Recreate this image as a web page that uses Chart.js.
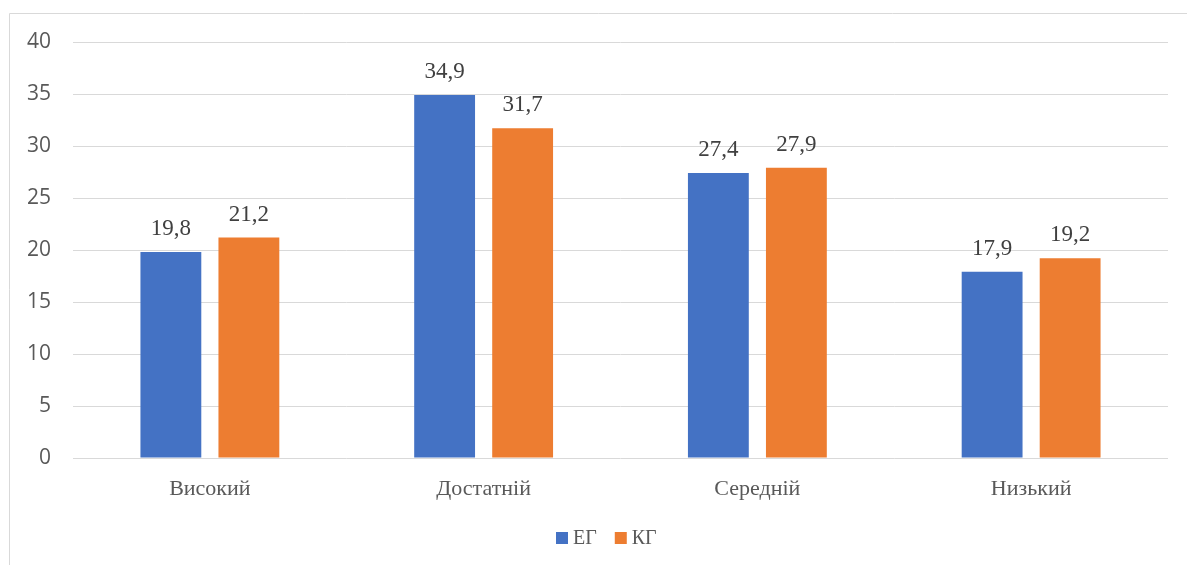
<!DOCTYPE html>
<html>
<head>
<meta charset="utf-8">
<script src="https://cdn.jsdelivr.net/npm/chart.js@4.4.1/dist/chart.umd.min.js"></script>
<style>
  html, body { margin: 0; padding: 0; background: #ffffff; }
  #wrap { position: relative; width: 1187px; height: 565px; }
</style>
</head>
<body>
<div id="wrap"><canvas id="chart" width="1187" height="565"></canvas></div>
<script>
// Levels and group results (%)
const categories = ['Високий', 'Достатній', 'Середній', 'Низький'];
const egValues = [19.8, 34.9, 27.4, 17.9];
const kgValues = [21.2, 31.7, 27.9, 19.2];
const seriesNames = ['ЕГ', 'КГ'];
const seriesColors = ['#4472c4', '#ed7d31'];
const yTicks = [0, 5, 10, 15, 20, 25, 30, 35, 40];

const SERIF = '"Liberation Serif", "Times New Roman", serif';
const SANS = '"Open Sans", "Liberation Sans", sans-serif';

// Thin frame along the top and left edges of the chart
const framePlugin = {
  id: 'frame',
  beforeDraw(chart) {
    const ctx = chart.ctx;
    ctx.save();
    ctx.strokeStyle = '#d9d9d9';
    ctx.lineWidth = 1;
    ctx.beginPath();
    ctx.moveTo(9.5, chart.height);
    ctx.lineTo(9.5, 13.5);
    ctx.lineTo(chart.width, 13.5);
    ctx.stroke();
    ctx.restore();
  }
};

// Value labels above each bar, using decimal commas
const valueLabels = {
  id: 'valueLabels',
  afterDatasetsDraw(chart) {
    const ctx = chart.ctx;
    ctx.save();
    ctx.font = '23px ' + SERIF;
    ctx.fillStyle = '#404040';
    ctx.textAlign = 'center';
    ctx.textBaseline = 'alphabetic';
    chart.data.datasets.forEach((ds, di) => {
      chart.getDatasetMeta(di).data.forEach((bar, i) => {
        const txt = ds.data[i].toFixed(1).replace('.', ',');
        ctx.fillText(txt, bar.x, bar.y - 17);
      });
    });
    ctx.restore();
  }
};

// Compact legend below the axis: small squares with tight text spacing
const bottomLegend = {
  id: 'bottomLegend',
  afterDraw(chart) {
    const ctx = chart.ctx;
    ctx.save();
    ctx.font = '20px ' + SERIF;
    ctx.textBaseline = 'alphabetic';
    ctx.textAlign = 'left';
    const box = 12, gapText = 5, gapItem = 18;
    const items = chart.data.datasets.map(ds => ({
      label: ds.label, color: ds.backgroundColor, w: ctx.measureText(ds.label).width
    }));
    const total = items.reduce((s, it) => s + box + gapText + it.w, 0) + gapItem * (items.length - 1);
    let x = Math.round(606 - total / 2);
    const boxTop = 532, baseline = 544;
    items.forEach(it => {
      ctx.fillStyle = it.color;
      ctx.fillRect(x, boxTop, box, box);
      x += box + gapText;
      ctx.fillStyle = '#595959';
      ctx.fillText(it.label, x, baseline);
      x += it.w + gapItem;
    });
    ctx.restore();
  }
};

new Chart(document.getElementById('chart'), {
  type: 'bar',
  data: {
    labels: categories,
    datasets: [
      { label: seriesNames[0], data: egValues, backgroundColor: seriesColors[0],
        categoryPercentage: 0.57, barPercentage: 0.78 },
      { label: seriesNames[1], data: kgValues, backgroundColor: seriesColors[1],
        categoryPercentage: 0.57, barPercentage: 0.78 }
    ]
  },
  options: {
    responsive: false,
    animation: false,
    layout: { padding: { top: 42, right: 19, bottom: 0, left: 0 } },
    plugins: {
      legend: { display: false },
      tooltip: { enabled: false }
    },
    scales: {
      x: {
        afterFit(scale) { scale.height = 565 - 458; },
        grid: { display: false },
        border: { display: false },
        ticks: { color: '#595959', font: { family: SERIF, size: 22 }, padding: 10 }
      },
      y: {
        min: 0, max: 40,
        afterBuildTicks(scale) { scale.ticks = yTicks.map(v => ({ value: v })); },
        afterFit(scale) { scale.width = 73; },
        grid: { color: '#d9d9d9', lineWidth: 1, drawTicks: false },
        border: { display: false },
        ticks: { color: '#595959', font: { family: SANS, size: 21 }, padding: 22 }
      }
    }
  },
  plugins: [framePlugin, valueLabels, bottomLegend]
});
</script>
</body>
</html>
